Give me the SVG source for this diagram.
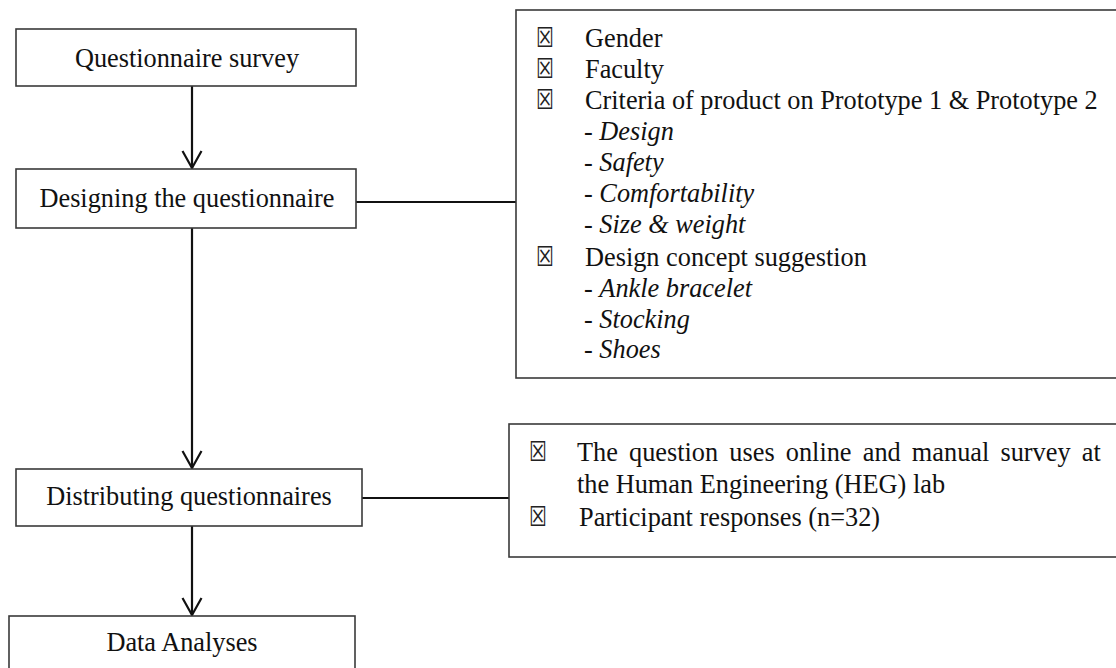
<svg xmlns="http://www.w3.org/2000/svg" width="1116" height="668" viewBox="0 0 1116 668">
<defs>
<style>
.box{fill:#fff;stroke:#3a3a3a;stroke-width:1.6}
.t{font-family:"Liberation Serif","Times New Roman",serif;font-size:26.3px;fill:#111}
.c{text-anchor:middle}
.b{font-family:"DejaVu Sans",sans-serif;font-size:19px;fill:#222}
.i{font-style:italic}
.ln{stroke:#111;stroke-width:2.2;fill:none}
</style>
<marker id="ah" viewBox="0 0 20 22" refX="18" refY="11" markerWidth="20" markerHeight="22" markerUnits="userSpaceOnUse" orient="auto">
<path d="M1,1.5 L18,11 L1,20.5" fill="none" stroke="#111" stroke-width="2.2"/>
</marker>
</defs>
<rect width="1116" height="668" fill="#fff"/>
<g id="connectors">
<line class="ln" x1="192" y1="86" x2="192" y2="168" marker-end="url(#ah)"/>
<line class="ln" x1="192" y1="228" x2="192" y2="468" marker-end="url(#ah)"/>
<line class="ln" x1="192" y1="526" x2="192" y2="615" marker-end="url(#ah)"/>
<line class="ln" x1="356" y1="202" x2="516" y2="202"/>
<line class="ln" x1="362" y1="498" x2="509" y2="498"/>
</g>
<g id="n1">
<rect class="box" x="16" y="29" width="340" height="57"/>
<text class="t c" x="187" y="67">Questionnaire survey</text>
</g>
<g id="n2">
<rect class="box" x="16" y="169" width="340" height="59"/>
<text class="t c" x="187" y="207">Designing the questionnaire</text>
</g>
<g id="n3">
<rect class="box" x="16" y="469" width="346" height="57"/>
<text class="t c" x="189" y="505">Distributing questionnaires</text>
</g>
<g id="n4">
<rect class="box" x="9" y="616" width="346" height="70"/>
<text class="t c" x="182" y="651">Data Analyses</text>
</g>
<g id="p1">
<rect class="box" x="516" y="10" width="620" height="368"/>
<text class="b" transform="translate(536,47) scale(1.05,1.45)">☒</text>
<text class="t" x="585" y="47">Gender</text>
<text class="b" transform="translate(536,78) scale(1.05,1.45)">☒</text>
<text class="t" x="585" y="78">Faculty</text>
<text class="b" transform="translate(536,109) scale(1.05,1.45)">☒</text>
<text class="t" x="585" y="109">Criteria of product on Prototype 1 &amp; Prototype 2</text>
<text class="t" x="584" y="140">- <tspan class="i">Design</tspan></text>
<text class="t" x="584" y="171">- <tspan class="i">Safety</tspan></text>
<text class="t" x="584" y="202">- <tspan class="i">Comfortability</tspan></text>
<text class="t" x="584" y="233">- <tspan class="i">Size &amp; weight</tspan></text>
<text class="b" transform="translate(536,266) scale(1.05,1.45)">☒</text>
<text class="t" x="585" y="266">Design concept suggestion</text>
<text class="t" x="584" y="297">- <tspan class="i">Ankle bracelet</tspan></text>
<text class="t" x="584" y="328">- <tspan class="i">Stocking</tspan></text>
<text class="t" x="584" y="358">- <tspan class="i">Shoes</tspan></text>
</g>
<g id="p2">
<rect class="box" x="509" y="424" width="627" height="133"/>
<text class="b" transform="translate(529,461) scale(1.05,1.45)">☒</text>
<text class="t" x="577" y="461" word-spacing="4.6">The question uses online and manual survey at</text>
<text class="t" x="577" y="493">the Human Engineering (HEG) lab</text>
<text class="b" transform="translate(529,526) scale(1.05,1.45)">☒</text>
<text class="t" x="579" y="526">Participant responses (n=32)</text>
</g>
</svg>
